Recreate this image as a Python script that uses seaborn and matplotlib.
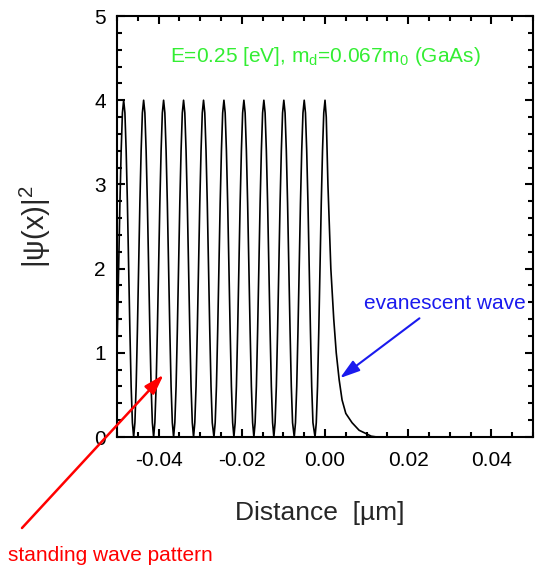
import matplotlib
matplotlib.use('Agg')
import pandas as pd
import seaborn as sns
import matplotlib.pyplot as plt
from matplotlib.ticker import MultipleLocator

# peak positions of the standing wave (um)
peak_x = [-0.0484, -0.0436, -0.0388, -0.0340, -0.0292,
          -0.0243, -0.0195, -0.0147, -0.0099, -0.0050]
# shape of one lobe around a peak
lobe_dx = [-0.0024, -0.0021, -0.0018, -0.0015, -0.0012, -0.0009, -0.0006, -0.0003,
           0.0, 0.0003, 0.0006, 0.0009, 0.0012, 0.0015, 0.0018, 0.0021]
lobe_y = [0.0, 0.17, 0.6, 1.26, 2.0, 2.78, 3.4, 3.85,
          4.0, 3.85, 3.4, 2.78, 2.0, 1.26, 0.6, 0.17]
# last peak at x=0 and the evanescent tail
tail_x = [0.0, 0.0003, 0.0007, 0.0014, 0.0021, 0.0027, 0.0034, 0.0041, 0.0050,
          0.0065, 0.0082, 0.0099, 0.0111, 0.0125]
tail_y = [4.0, 3.8, 3.0, 2.0, 1.4, 1.0, 0.68, 0.44, 0.28,
          0.17, 0.08, 0.04, 0.01, 0.0]

xs, ys = [], []
for p in peak_x:
    xs += [p + d for d in lobe_dx]
    ys += lobe_y
xs += lobe_dx[:8]
ys += lobe_y[:8]
xs += tail_x
ys += tail_y
df = pd.DataFrame({'distance': xs, 'psi2': ys})

sns.set_style('ticks')
plt.rcParams['font.family'] = ['Liberation Sans', 'DejaVu Sans']
plt.rcParams['mathtext.fontset'] = 'custom'
plt.rcParams['mathtext.rm'] = 'Liberation Sans'
plt.rcParams['mathtext.it'] = 'Liberation Sans:italic'

fig = plt.figure(figsize=(5.35, 5.68), dpi=100)
ax = fig.add_axes([0.2187, 0.2306, 0.7776, 0.7412])

sns.lineplot(data=df, x='distance', y='psi2', color='black', linewidth=1.2,
             sort=False, estimator=None, ax=ax)

ax.set_xlim(-0.05, 0.05)
ax.set_ylim(0, 5)
ax.set_xticks([-0.04, -0.02, 0.0, 0.02, 0.04])
ax.set_xticklabels(['-0.04', '-0.02', '0.00', '0.02', '0.04'])
ax.set_yticks([0, 1, 2, 3, 4, 5])
ax.xaxis.set_minor_locator(MultipleLocator(0.005))
ax.yaxis.set_minor_locator(MultipleLocator(0.2))
ax.tick_params(which='both', direction='in', top=True, right=True,
               width=1.5, colors='black')
ax.tick_params(which='major', length=6, labelsize=15)
ax.tick_params(axis='x', which='major', pad=10)
ax.tick_params(axis='y', which='major', pad=8)
ax.tick_params(which='minor', length=3.5)
for s in ax.spines.values():
    s.set_linewidth(1.5)
    s.set_color('black')

ax.set_xlabel('Distance  [\u00b5m]', fontsize=19)
ax.set_ylabel('|\u03c8(x)|$^2$', fontsize=21)
ax.xaxis.set_label_coords(0.488, -0.152)
ax.yaxis.set_label_coords(-0.155, 0.5)

ax.text(0.0, 4.45, 'E=0.25 [eV], m$_\\mathrm{d}$=0.067m$_\\mathrm{0}$ (GaAs)',
        color='#33ee33', fontsize=15, ha='center', va='baseline')

ax.text(0.0287, 1.52, 'evanescent wave', color='#1a1aee', fontsize=15,
        ha='center', va='baseline')
ax.annotate('', xy=(0.0036, 0.70), xytext=(0.0227, 1.41),
            arrowprops=dict(arrowstyle='-|>,head_length=0.8,head_width=0.25',
                            color='#1a1aee', lw=1.5, shrinkA=0, shrinkB=0,
                            mutation_scale=15))

fig.text(0.2056, 0.0123, 'standing wave pattern', color='red', fontsize=15,
         ha='center', va='baseline')
ax.annotate('', xy=(-0.0388, 0.74), xycoords='data',
            xytext=(0.0411, 0.0704), textcoords='figure fraction',
            annotation_clip=False,
            arrowprops=dict(arrowstyle='-|>,head_length=0.8,head_width=0.25',
                            color='red', lw=1.8, shrinkA=0, shrinkB=0,
                            mutation_scale=15))

fig.savefig('out.png', dpi=100)
